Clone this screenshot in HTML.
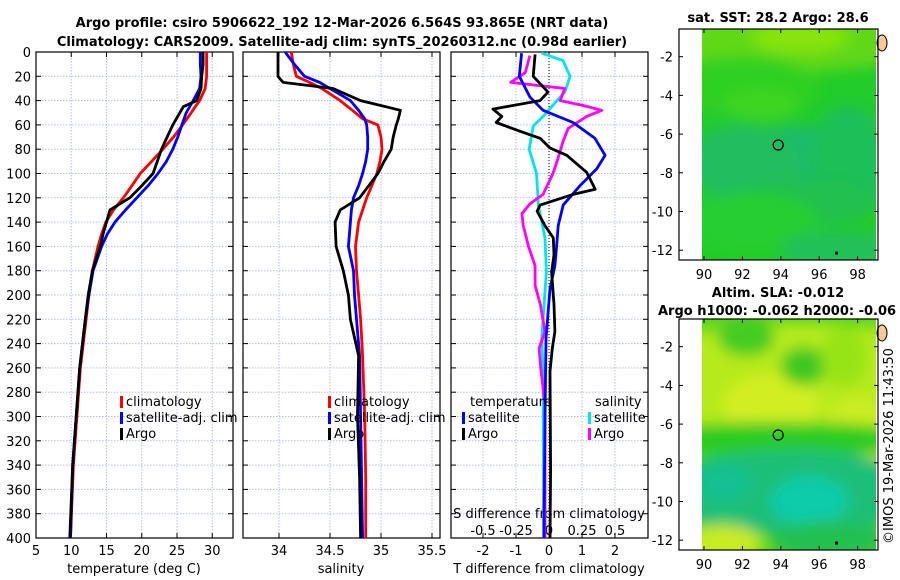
<!DOCTYPE html>
<html><head><meta charset="utf-8"><style>
html,body{margin:0;padding:0;background:#fff;}
svg{display:block;font-family:"DejaVu Sans","Liberation Sans",sans-serif;}
</style></head><body>
<svg id="chart" width="900" height="580" viewBox="0 0 900 580" xmlns="http://www.w3.org/2000/svg">
<defs>
<filter id="blur6" x="-50%" y="-50%" width="200%" height="200%"><feGaussianBlur stdDeviation="7"/></filter>
<clipPath id="clipTop"><rect x="702" y="29" width="174" height="231"/></clipPath>
<clipPath id="clipBot"><rect x="702" y="319" width="174" height="231"/></clipPath>
</defs>
<text x="342" y="27" font-size="13" font-weight="bold" text-anchor="middle">Argo profile: csiro 5906622_192 12-Mar-2026 6.564S 93.865E (NRT data)</text>
<text x="342" y="46" font-size="13" font-weight="bold" text-anchor="middle">Climatology: CARS2009. Satellite-adj clim: synTS_20260312.nc (0.98d earlier)</text>
<text x="778" y="22" font-size="13" font-weight="bold" text-anchor="middle">sat. SST: 28.2 Argo: 28.6</text>
<text x="778" y="297" font-size="13" font-weight="bold" text-anchor="middle">Altim. SLA: -0.012</text>
<text x="658" y="315" font-size="13" font-weight="bold">Argo h1000: -0.062 h2000: -0.06</text>
<text x="0" y="0" font-size="13" text-anchor="middle" transform="translate(893,446) rotate(-90)">©IMOS 19-Mar-2026 11:43:50</text>
<g id="plots"></g>
</svg>
<script>
// ---------- data ----------
const depthTicks = [0,20,40,60,80,100,120,140,160,180,200,220,240,260,280,300,320,340,360,380,400];
const tempTicks = [5,10,15,20,25,30];
const salTicks = [34,34.5,35,35.5];
const tdiffTicks = [-2,-1,0,1,2];
const sdiffTickLabels = ["-0.5","-0.25","0","0.25","0.5"];
const sdiffTicks = [-0.5,-0.25,0,0.25,0.5];

const tDepths = [0,10,20,30,40,45,50,60,70,80,90,100,110,120,130,140,150,160,180,200,220,260,300,340,400];
const tClim = [29.2,29.2,29.2,29.0,28.2,27.6,27.0,25.8,24.5,23.0,21.4,19.8,18.6,17.4,16.0,14.9,14.3,13.8,13.0,12.5,12.1,11.3,10.8,10.3,9.9];
const tSat = [28.3,28.3,28.4,28.2,27.3,26.8,26.3,25.7,25.1,24.4,23.5,22.3,20.9,19.3,17.7,16.2,15.1,14.3,13.1,12.5,12.0,11.2,10.7,10.2,9.9];
const tArgo = [28.7,28.7,28.5,28.4,27.8,25.9,25.4,24.4,23.6,22.8,22.2,21.6,20.0,18.3,15.5,15.0,14.5,14.1,13.0,12.4,12.0,11.2,10.7,10.2,9.8];

const sDepths = [0,10,20,25,30,40,48,55,60,70,80,90,100,110,120,130,140,160,180,200,220,250,300,350,400];
const sClim = [34.12,34.14,34.17,34.3,34.42,34.6,34.72,34.82,34.97,35.0,35.01,34.99,34.96,34.91,34.86,34.82,34.78,34.75,34.76,34.78,34.8,34.82,34.84,34.85,34.85];
const sSat = [34.06,34.15,34.25,34.4,34.5,34.7,34.78,34.84,34.86,34.87,34.87,34.85,34.82,34.78,34.73,34.71,34.7,34.68,34.73,34.74,34.76,34.79,34.8,34.81,34.82];
const sArgo = [33.99,33.99,33.99,34.04,34.53,34.8,35.19,35.17,35.15,35.12,35.1,35.03,34.97,34.88,34.79,34.6,34.55,34.56,34.63,34.68,34.7,34.78,34.77,34.79,34.8];

const dtSatDepths = [1,20,37,48,58,71,85,96,110,126,143,160,176,195,236,300,384,400];
const dtSat = [-0.83,-0.9,-0.58,-0.18,0.73,1.39,1.7,1.45,0.94,0.43,0.28,0.23,0.18,0.03,-0.09,-0.12,-0.15,-0.15];
const dtArgoDepths = [2,20,33,40,47,53,58,66,71,79,85,99,107,113,117,126,131,143,153,167,181,208,230,244,263,345,400];
const dtArgo = [-0.42,-0.48,-0.03,-0.27,-1.7,-1.43,-1.6,-0.8,-0.27,0.03,0.54,1.14,1.29,1.4,0.75,-0.27,-0.36,-0.12,0.13,0.15,0.08,0.15,0.18,0.1,0.03,0.05,0.03];
const dsSatDepths = [1,7,20,33,42,53,61,80,100,126,153,181,236,263,400];
const dsSat = [-0.055,0.105,0.16,0.12,0.045,-0.045,-0.12,-0.15,-0.095,-0.08,-0.03,-0.02,-0.055,-0.045,-0.04];
const dsArgoDepths = [3,17,25,30,40,44,48,53,63,74,87,100,117,125,133,143,160,176,192,208,230,244,263,290,400];
const dsArgo = [-0.145,-0.18,-0.29,0.12,0.085,0.26,0.4,0.285,0.145,0.105,0.07,0.03,-0.045,-0.145,-0.205,-0.195,-0.155,-0.105,-0.105,-0.065,-0.03,-0.075,-0.06,-0.03,-0.03];

const lonTicks = [90,92,94,96,98];
const latTicks = [-2,-4,-6,-8,-10,-12];
const argoLon = 93.865, argoLat = -6.564;

// ---------- scales ----------
const Y0 = 52, Y1 = 538;
const yd = d => Y0 + d * 1.215;
const tx = t => 36 + (t - 5) * 7.05;
const sx = s => 279 + (s - 34) * 102;
const dx = t => 549 + t * 33;
const dsx = s => 549 + s * 132;
const lonX = lon => 704 + (lon - 90) * 19.2;
const latYTop = lat => 56.7 + (-2 - lat) * 19.35;
const latYBot = lat => 346.7 + (-2 - lat) * 19.35;

const NS = "http://www.w3.org/2000/svg";
const root = document.getElementById('plots');
function mk(tag, attrs, parent) {
  const el = document.createElementNS(NS, tag);
  for (const k in attrs) el.setAttribute(k, attrs[k]);
  (parent || root).appendChild(el);
  return el;
}
function txt(x, y, s, size, anchor, parent) {
  const el = mk('text', {x: x, y: y, 'font-size': size, 'text-anchor': anchor || 'middle'}, parent);
  el.textContent = s;
  return el;
}

const panels = [
  {x0: 36, x1: 233, name: 'temperature'},
  {x0: 243, x1: 440, name: 'salinity'},
  {x0: 451, x1: 648, name: 'difference'}
];

panels.forEach((p, i) => {
  const g = mk('g', {});
  
  
  depthTicks.forEach(d => {
    const l = mk('line', {x1: p.x0, x2: p.x1, y1: yd(d), y2: yd(d), stroke: '#b8bfe6', 'stroke-width': 1, 'stroke-dasharray': '1.5,1.5'}, g);
    
    
    const tl = mk('line', {x1: p.x0, x2: p.x0 + 5, y1: yd(d), y2: yd(d), stroke: '#000'}, g);
    
    
    const tr = mk('line', {x1: p.x1 - 5, x2: p.x1, y1: yd(d), y2: yd(d), stroke: '#000'}, g);
    
    
  });
  let ticks, sc;
  if (i === 0) { ticks = tempTicks; sc = tx; }
  else if (i === 1) { ticks = salTicks; sc = sx; }
  else { ticks = tdiffTicks; sc = dx; }
  ticks.forEach(v => {
    const l = mk('line', {x1: sc(v), x2: sc(v), y1: Y0, y2: Y1, stroke: '#b8bfe6', 'stroke-width': 1, 'stroke-dasharray': '1.5,1.5'}, g);
    
    
    const tb = mk('line', {x1: sc(v), x2: sc(v), y1: Y1 - 5, y2: Y1, stroke: '#000'}, g);
    
    
    const tt = mk('line', {x1: sc(v), x2: sc(v), y1: Y0, y2: Y0 + 5, stroke: '#000'}, g);
    
    
    const lb = txt(sc(v), 555, String(v), 13, 'middle', g);
    
    
  });
  if (i === 2) {
    const z = mk('line', {x1: dx(0), x2: dx(0), y1: Y0, y2: Y1, stroke: '#000', 'stroke-width': 1, 'stroke-dasharray': '1,2'}, g);
    
    
  }
  const fr = mk('rect', {x: p.x0, y: Y0, width: p.x1 - p.x0, height: Y1 - Y0, fill: 'none', stroke: '#000', 'stroke-width': 1.2}, g);
  
  
});

depthTicks.forEach(d => {
  const l = txt(31, yd(d) + 5, String(d), 13, 'end');
  
  
});

const xt1 = txt(134, 573, 'temperature (deg C)', 13);


const xt2 = txt(341, 573, 'salinity', 13);


const xt3 = txt(549, 573, 'T difference from climatology', 13);


const xt4 = txt(549, 518, 'S difference from climatology', 13);


sdiffTicks.forEach((v, k) => {
  const l = txt(dsx(v), 535, sdiffTickLabels[k], 13);
  
  
});

function series(depths, vals, sc, color, name) {
  const pts = depths.map((d, k) => sc(vals[k]).toFixed(1) + ',' + yd(d).toFixed(1)).join(' ');
  const pl = mk('polyline', {points: pts, fill: 'none', stroke: color, 'stroke-width': 2.8, 'stroke-linejoin': 'round'});
  
  
}
series(tDepths, tClim, tx, '#ff0000', 'temperature-climatology-line');
series(tDepths, tSat, tx, '#0000ff', 'temperature-satellite-line');
series(tDepths, tArgo, tx, '#000000', 'temperature-argo-line');
series(sDepths, sClim, sx, '#ff0000', 'salinity-climatology-line');
series(sDepths, sSat, sx, '#0000ff', 'salinity-satellite-line');
series(sDepths, sArgo, sx, '#000000', 'salinity-argo-line');
series(dsSatDepths, dsSat, dsx, '#00e5ee', 'salinity-diff-satellite-line');
series(dsArgoDepths, dsArgo, dsx, '#ff00ff', 'salinity-diff-argo-line');
series(dtSatDepths, dtSat, dx, '#0000ff', 'temperature-diff-satellite-line');
series(dtArgoDepths, dtArgo, dx, '#000000', 'temperature-diff-argo-line');

function legendEntry(x, y, color, label, name) {
  const m = mk('rect', {x: x, y: y - 10, width: 3, height: 12, fill: color});
  
  
  const t = txt(x + 6, y, label, 13, 'start');
  
  
}
legendEntry(120, 406, '#ff0000', 'climatology', 'legend-climatology');
legendEntry(120, 422, '#0000ff', 'satellite-adj. clim', 'legend-satellite');
legendEntry(120, 438, '#000000', 'Argo', 'legend-argo');
legendEntry(328, 406, '#ff0000', 'climatology', 'legend-climatology');
legendEntry(328, 422, '#0000ff', 'satellite-adj. clim', 'legend-satellite');
legendEntry(328, 438, '#000000', 'Argo', 'legend-argo');
const lh1 = txt(470, 406, 'temperature', 13, 'start');


const lh2 = txt(595, 406, 'salinity', 13, 'start');


legendEntry(462, 422, '#0000ff', 'satellite', 'legend-t-satellite');
legendEntry(462, 438, '#000000', 'Argo', 'legend-t-argo');
legendEntry(588, 422, '#00e5ee', 'satellite', 'legend-s-satellite');
legendEntry(588, 438, '#ff00ff', 'Argo', 'legend-s-argo');

// ---------- maps ----------
function mapPanel(top, latY, clipId, blobs, base, name) {
  const g = mk('g', {});
  
  
  const cg = mk('g', {'clip-path': 'url(#' + clipId + ')'}, g);
  const b = mk('rect', {x: 702, y: top, width: 174, height: 231, fill: base}, cg);
  
  
  const fg = mk('g', {filter: 'url(#blur6)'}, cg);
  blobs.forEach(bl => {
    const e = mk('ellipse', {cx: lonX(bl[0]), cy: latY(bl[1]), rx: bl[2] * 19.2, ry: bl[3] * 19.3, fill: bl[4]}, fg);
    
    
  });
  const land = mk('ellipse', {cx: 882, cy: top + 14, rx: 5, ry: 8, fill: '#f8c898', stroke: '#000', 'stroke-width': 1}, g);
  
  
  const fr = mk('rect', {x: 679, y: top, width: 199, height: 231, fill: 'none', stroke: '#000', 'stroke-width': 1.2}, g);
  
  
  lonTicks.forEach(v => {
    const t1 = mk('line', {x1: lonX(v), x2: lonX(v), y1: top + 231 - 4, y2: top + 231, stroke: '#000'}, g);
    
    
    const t2 = mk('line', {x1: lonX(v), x2: lonX(v), y1: top, y2: top + 4, stroke: '#000'}, g);
    
    
    const l = txt(lonX(v), top + 250, String(v), 13, 'middle', g);
    
    
  });
  latTicks.forEach(v => {
    const t1 = mk('line', {x1: 679, x2: 683, y1: latY(v), y2: latY(v), stroke: '#000'}, g);
    
    
    const t2 = mk('line', {x1: 874, x2: 878, y1: latY(v), y2: latY(v), stroke: '#000'}, g);
    
    
    const l = txt(673, latY(v) + 5, String(v), 13, 'end', g);
    
    
  });
  const c = mk('circle', {cx: lonX(argoLon), cy: latY(argoLat), r: 5, fill: 'none', stroke: '#000', 'stroke-width': 1.3}, g);
  
  
  const sq = mk('rect', {x: lonX(96.9) - 1.5, y: latY(-12.15) - 1.5, width: 3, height: 3, fill: '#000'}, g);
  
  
}
mapPanel(29, latYTop, 'clipTop', [
  [94, -1.2, 8, 1.6, '#60d816'],
  [95, -1.0, 2.5, 0.8, '#88e410'],
  [92, -3.5, 4, 1.5, '#2ed024'],
  [93, -4.5, 2, 0.8, '#40d420'],
  [95, -7.8, 4.5, 2.2, '#1cba70'],
  [92, -7.5, 3, 2, '#20bd5e'],
  [97.5, -7.5, 2, 3, '#1ebf58'],
  [95.5, -9.5, 3.5, 1.2, '#20c050'],
  [92.5, -10.5, 3.5, 1.5, '#26ce30'],
  [97, -12, 3, 1, '#20c058']
], '#22cc2a', 'sst-map');
mapPanel(319, latYBot, 'clipBot', [
  [95, -3.8, 10, 3, '#b6ea1e'],
  [93.5, -5, 2.5, 1.6, '#d2ee22'],
  [98, -6.5, 1.8, 2, '#ccec20'],
  [92.2, -1.5, 1.5, 1, '#44cc20'],
  [95.2, -3, 1.2, 1, '#3ec820'],
  [97.3, -2.5, 1.2, 1.6, '#96e414'],
  [94, -6.8, 8, 0.9, '#2ccc20'],
  [94.5, -9.5, 7, 2.2, '#1abf78'],
  [95.5, -10, 2, 1.3, '#10ccaa'],
  [91, -9, 1.5, 1, '#18c090'],
  [91, -12.2, 2, 1, '#c8ec22'],
  [96.5, -12, 3, 1, '#22c050']
], '#5ad81a', 'sla-map');
</script>
</body></html>
